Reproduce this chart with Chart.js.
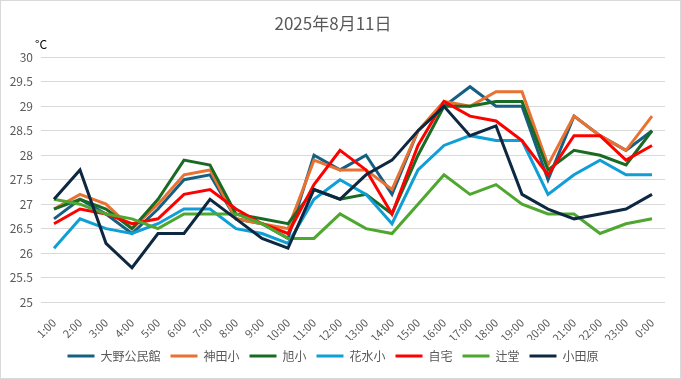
<!DOCTYPE html>
<html lang="ja">
<head>
  <meta charset="UTF-8" />
  <title>2025年8月11日</title>
  <script src="https://cdn.jsdelivr.net/npm/chart.js"></script>
  <style>
    body {
      margin: 0;
      padding: 0;
      background: white;
    }

    .frame {
      width: 681px;
      height: 379px;
      box-sizing: border-box;
      border: 1px solid #d9d9d9;
      position: relative;
    }
  </style>
</head>
<body>

  <div class="frame">
    <canvas id="tempChart"></canvas>
  </div>

  <script>
    const hours = ['1:00', '2:00', '3:00', '4:00', '5:00', '6:00', '7:00', '8:00', '9:00', '10:00', '11:00', '12:00',
                   '13:00', '14:00', '15:00', '16:00', '17:00', '18:00', '19:00', '20:00', '21:00', '22:00', '23:00', '0:00'];

    const oono   = [26.7, 27.1, 26.8, 26.4, 26.9, 27.5, 27.6, 26.7, 26.6, 26.3, 28.0, 27.7, 28.0, 27.2, 28.5, 29.0, 29.4, 29.0, 29.0, 27.5, 28.8, 28.4, 28.1, 28.5];
    const kanda  = [26.9, 27.2, 27.0, 26.5, 27.0, 27.6, 27.7, 26.7, 26.6, 26.5, 27.9, 27.7, 27.7, 27.3, 28.5, 29.1, 29.0, 29.3, 29.3, 27.8, 28.8, 28.4, 28.1, 28.8];
    const asahi  = [26.9, 27.1, 26.9, 26.5, 27.1, 27.9, 27.8, 26.8, 26.7, 26.6, 27.3, 27.1, 27.2, 26.8, 28.0, 29.0, 29.0, 29.1, 29.1, 27.7, 28.1, 28.0, 27.8, 28.5];
    const hanamizu = [26.1, 26.7, 26.5, 26.4, 26.6, 26.9, 26.9, 26.5, 26.4, 26.2, 27.1, 27.5, 27.2, 26.6, 27.7, 28.2, 28.4, 28.3, 28.3, 27.2, 27.6, 27.9, 27.6, 27.6];
    const home   = [26.6, 26.9, 26.8, 26.6, 26.7, 27.2, 27.3, 26.9, 26.6, 26.4, 27.4, 28.1, 27.7, 26.8, 28.2, 29.1, 28.8, 28.7, 28.3, 27.6, 28.4, 28.4, 27.9, 28.2];
    const tsujido = [27.1, 27.0, 26.8, 26.7, 26.5, 26.8, 26.8, 26.8, 26.6, 26.3, 26.3, 26.8, 26.5, 26.4, 27.0, 27.6, 27.2, 27.4, 27.0, 26.8, 26.8, 26.4, 26.6, 26.7];
    const odawara = [27.1, 27.7, 26.2, 25.7, 26.4, 26.4, 27.1, 26.7, 26.3, 26.1, 27.3, 27.1, 27.6, 27.9, 28.5, 29.0, 28.4, 28.6, 27.2, 26.9, 26.7, 26.8, 26.9, 27.2];

    const seriesNames = ['大野公民館', '神田小', '旭小', '花水小', '自宅', '辻堂', '小田原'];
    const seriesData = [oono, kanda, asahi, hanamizu, home, tsujido, odawara];
    const seriesColors = ['#156082', '#e97132', '#196b24', '#0f9ed5', '#ff0000', '#4ea72e', '#0e2841'];

    const yMin = 25, yMax = 30, yStep = 0.5;

    const fontFamily = '"Noto Sans CJK JP", "Noto Sans", sans-serif';
    const gray = '#595959';

    // draws the "°C" unit above the value axis
    const unitLabel = {
      id: 'unitLabel',
      afterDraw(chart) {
        const { ctx, chartArea } = chart;
        ctx.save();
        ctx.font = '12px ' + fontFamily;
        ctx.fillStyle = '#000000';
        ctx.textAlign = 'center';
        ctx.textBaseline = 'middle';
        ctx.fillText('°C', chartArea.left, chartArea.top - 13);
        ctx.restore();
      }
    };

    new Chart(document.getElementById('tempChart'), {
      type: 'line',
      data: {
        labels: hours,
        datasets: seriesNames.map((name, i) => ({
          label: name,
          data: seriesData[i],
          borderColor: seriesColors[i],
          backgroundColor: seriesColors[i],
          borderWidth: 3,
          pointRadius: 0,
          tension: 0,
          order: -i
        }))
      },
      options: {
        responsive: true,
        maintainAspectRatio: false,
        animation: false,
        layout: { padding: { left: 0, right: 15, top: 0, bottom: 6 } },
        plugins: {
          title: {
            display: true,
            text: '2025年8月11日',
            color: gray,
            font: { family: fontFamily, size: 17, weight: 'normal' },
            padding: { top: 12, bottom: 24 }
          },
          legend: {
            position: 'bottom',
            labels: {
              usePointStyle: true,
              pointStyle: 'line',
              pointStyleWidth: 27,
              color: gray,
              padding: 10,
              font: { family: fontFamily, size: 12 },
              sort: (a, b) => a.datasetIndex - b.datasetIndex
            }
          },
          tooltip: { enabled: false }
        },
        scales: {
          x: {
            offset: true,
            grid: { display: false },
            border: { display: false },
            ticks: {
              color: gray,
              font: { family: fontFamily, size: 11 },
              minRotation: 45,
              maxRotation: 45,
              autoSkip: false,
              padding: 6
            },
            afterFit(scale) { scale.height = 38; }
          },
          y: {
            min: yMin,
            max: yMax,
            grid: { color: '#d9d9d9', drawTicks: false },
            border: { display: false },
            ticks: {
              stepSize: yStep,
              color: gray,
              font: { family: fontFamily, size: 12 },
              padding: 8,
              callback: value => String(value)
            },
            afterFit(scale) { scale.width = 40; }
          }
        }
      },
      plugins: [unitLabel]
    });
  </script>

</body>
</html>
